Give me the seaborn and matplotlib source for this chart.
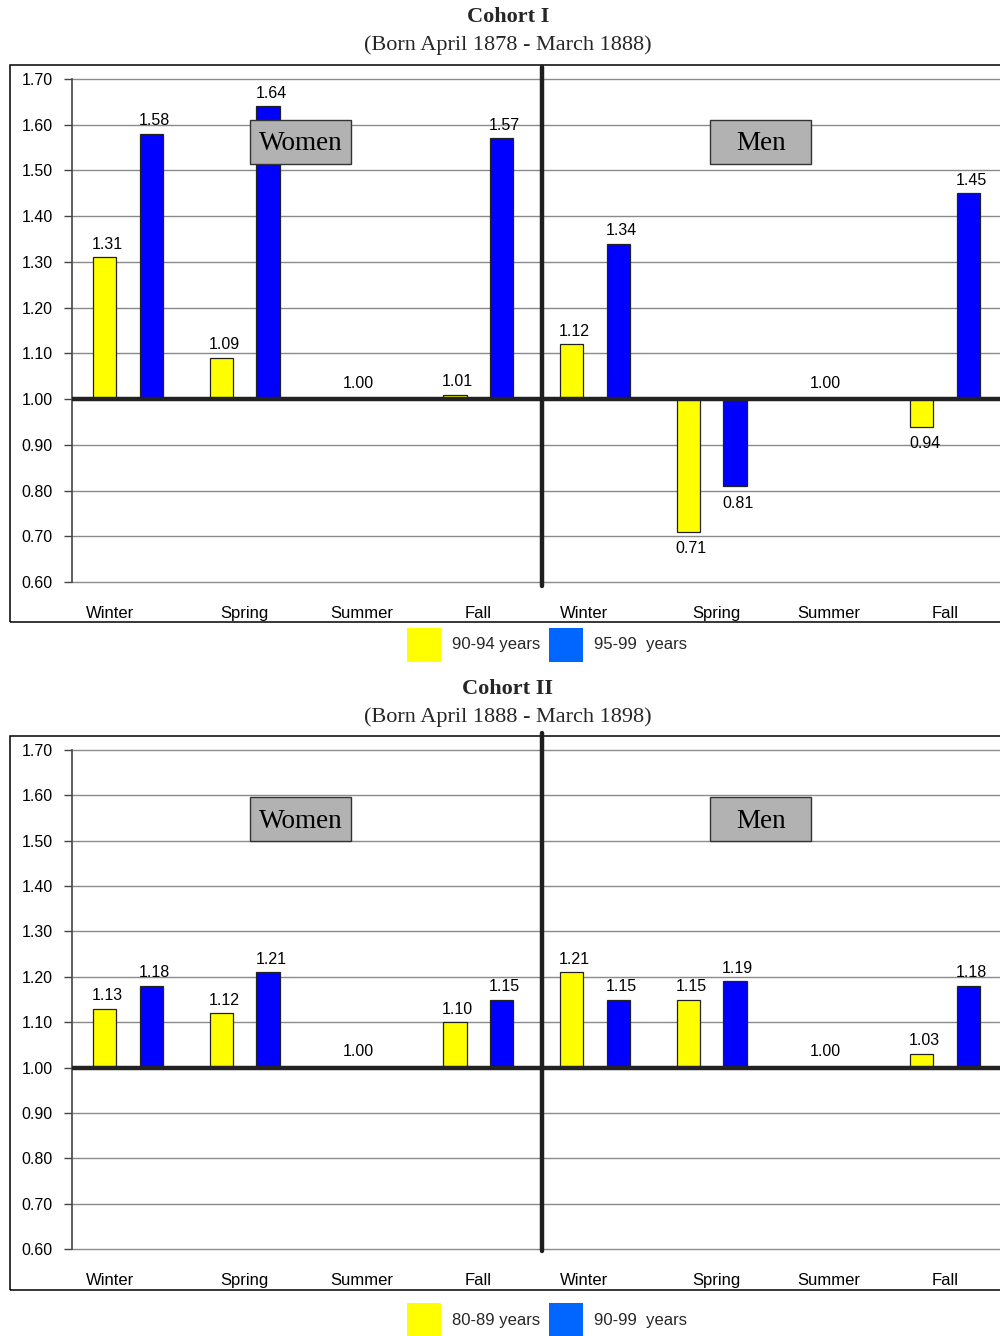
import matplotlib
matplotlib.use("Agg")
import matplotlib.pyplot as plt
from matplotlib.patches import Rectangle
from matplotlib.lines import Line2D
import seaborn as sns
import pandas as pd

# ---- data -------------------------------------------------------------
seasons = ["Winter", "Spring", "Summer", "Fall"]
sexes = ["Women", "Men"]

c1_title = "Cohort I"
c1_subtitle = "(Born April 1878 - March 1888)"
c1_groups = ["90-94 years", "95-99  years"]
c1_women_a = [1.31, 1.09, 1.00, 1.01]
c1_women_b = [1.58, 1.64, 1.00, 1.57]
c1_men_a = [1.12, 0.71, 1.00, 0.94]
c1_men_b = [1.34, 0.81, 1.00, 1.45]

c2_title = "Cohort II"
c2_subtitle = "(Born April 1888 - March 1898)"
c2_groups = ["80-89 years", "90-99  years"]
c2_women_a = [1.13, 1.12, 1.00, 1.10]
c2_women_b = [1.18, 1.21, 1.00, 1.15]
c2_men_a = [1.21, 1.15, 1.00, 1.03]
c2_men_b = [1.15, 1.19, 1.00, 1.18]

yticks = [0.60, 0.70, 0.80, 0.90, 1.00, 1.10, 1.20, 1.30, 1.40, 1.50, 1.60, 1.70]
reference_season = "Summer"

# ---- style ------------------------------------------------------------
sns.set_theme(style="white")
plt.rcParams["font.family"] = ["Liberation Sans", "DejaVu Sans"]
SERIF = ["Liberation Serif", "DejaVu Serif"]
YELLOW = "#ffff00"
BLUE = "#0000ff"
LEGEND_BLUE = "#0066ff"
W, H = 1000, 1336

fig = plt.figure(figsize=(W / 100, H / 100), dpi=100)


def fx(x):
    return x / W


def fy(y):
    return 1 - y / H


def fig_rect(x0, y0, x1, y1, **kw):
    r = Rectangle((fx(x0), fy(y1)), fx(x1) - fx(x0), fy(y0) - fy(y1),
                  transform=fig.transFigure, **kw)
    fig.add_artist(r)
    return r


def panel(title, subtitle, groups, women_a, women_b, men_a, men_b, lay):
    ax = fig.add_axes([fx(72), fy(lay["ax_bot"]), fx(1000) - fx(72),
                       fy(lay["ax_top"]) - fy(lay["ax_bot"])])

    slots = [f"{s} {q}" for s in sexes for q in seasons]
    vals_a = women_a + men_a
    vals_b = women_b + men_b
    df = pd.DataFrame({
        "slot": slots + slots,
        "group": [groups[0]] * len(slots) + [groups[1]] * len(slots),
        "value": vals_a + vals_b,
    })
    df["rise"] = df["value"] - 1.0

    sns.barplot(data=df, x="slot", y="rise", hue="group", order=slots,
                hue_order=groups, palette=[YELLOW, BLUE], width=0.8, gap=0.5,
                errorbar=None, bottom=1.0, edgecolor="#222222", linewidth=0.9,
                saturation=1, legend=False, ax=ax, zorder=3)

    # value labels
    for i, slot in enumerate(slots):
        season = slot.split(" ", 1)[1]
        va_, vb_ = vals_a[i], vals_b[i]
        if season == reference_season:
            ax.annotate(f"{va_:.2f}", (i, 1.0), xytext=(-2, 6), textcoords="offset points",
                        ha="center", va="bottom", fontsize=11.5, color="black", zorder=5)
            continue
        for off, v in ((-0.2, va_), (0.2, vb_)):
            up = v >= 1.0
            ax.annotate(f"{v:.2f}", (i + off, v), xytext=(2, 4 if up else -7),
                        textcoords="offset points", ha="center",
                        va="bottom" if up else "top", fontsize=11.5,
                        color="black", zorder=5)

    ax.set_xlim(-0.48, 7.47)
    ax.set_ylim(0.60, 1.70)
    ax.set_yticks(yticks)
    ax.set_yticklabels([f"{t:.2f}" for t in yticks], fontsize=11.5)
    # season names sit a little left of the Winter bar pairs
    label_shift = [-0.15, 0, 0, 0, -0.09, 0.04, 0, 0]
    ax.set_xticks([i + s for i, s in enumerate(label_shift)])
    ax.set_xticklabels(seasons + seasons, fontsize=12)
    ax.tick_params(axis="x", length=0, pad=17, colors="black")
    ax.tick_params(axis="y", length=6, width=1, color="#444444", pad=8,
                   left=True, direction="out", labelcolor="black")
    ax.set_xlabel("")
    ax.set_ylabel("")
    for sp in ("top", "right", "bottom"):
        ax.spines[sp].set_visible(False)
    ax.spines["left"].set_color("#444444")
    ax.spines["left"].set_linewidth(1.2)
    for t in yticks:
        ax.axhline(t, color="#8a8a8a", lw=1.0, zorder=1, clip_on=False)
    ax.axhline(1.0, color="#222222", lw=3.2, zorder=4)
    ax.set_facecolor("none")

    # divider between women and men
    fig.add_artist(Line2D([fx(542), fx(542)], [fy(lay["div_top"]), fy(lay["div_bot"])],
                          transform=fig.transFigure, color="#1e1e1e", lw=3.2, zorder=3))

    # outer frame
    fig_rect(10, lay["frame_top"], 1010, lay["frame_bot"], fill=False,
             edgecolor="black", lw=1.1, zorder=2)

    # sex label boxes
    by = lay["box_top"]
    for x0, name in ((250, sexes[0]), (710, sexes[1])):
        fig_rect(x0, by, x0 + 101, by + 44, facecolor="#b2b2b2",
                 edgecolor="#333333", lw=1.0, zorder=6)
        fig.text(fx(x0 + 51), fy(by + 24), name, ha="center", va="center",
                 fontsize=19.5, family=SERIF, color="black", zorder=7)

    # titles
    fig.text(0.508, fy(lay["title"]), title, ha="center", va="center", fontsize=16,
             fontweight="bold", family=SERIF)
    fig.text(0.508, fy(lay["title"] + 28), subtitle, ha="center", va="center",
             fontsize=16, family=SERIF)

    # legend
    ly = lay["legend"]
    fig_rect(407, ly - 17, 441, ly + 17, facecolor=YELLOW, edgecolor="none", zorder=2)
    fig.text(fx(452), fy(ly), groups[0], ha="left", va="center", fontsize=12)
    fig_rect(549, ly - 17, 583, ly + 17, facecolor=LEGEND_BLUE, edgecolor="none", zorder=2)
    fig.text(fx(594), fy(ly), groups[1], ha="left", va="center", fontsize=12)


panel(c1_title, c1_subtitle, c1_groups, c1_women_a, c1_women_b, c1_men_a, c1_men_b,
      dict(title=17, ax_top=79, ax_bot=582, frame_top=65, frame_bot=622,
           div_top=67, div_bot=586, box_top=120, legend=645))
panel(c2_title, c2_subtitle, c2_groups, c2_women_a, c2_women_b, c2_men_a, c2_men_b,
      dict(title=689, ax_top=750, ax_bot=1249, frame_top=736, frame_bot=1290,
           div_top=733, div_bot=1251, box_top=797, legend=1320))

fig.savefig("out.png", dpi=100, facecolor="white")
